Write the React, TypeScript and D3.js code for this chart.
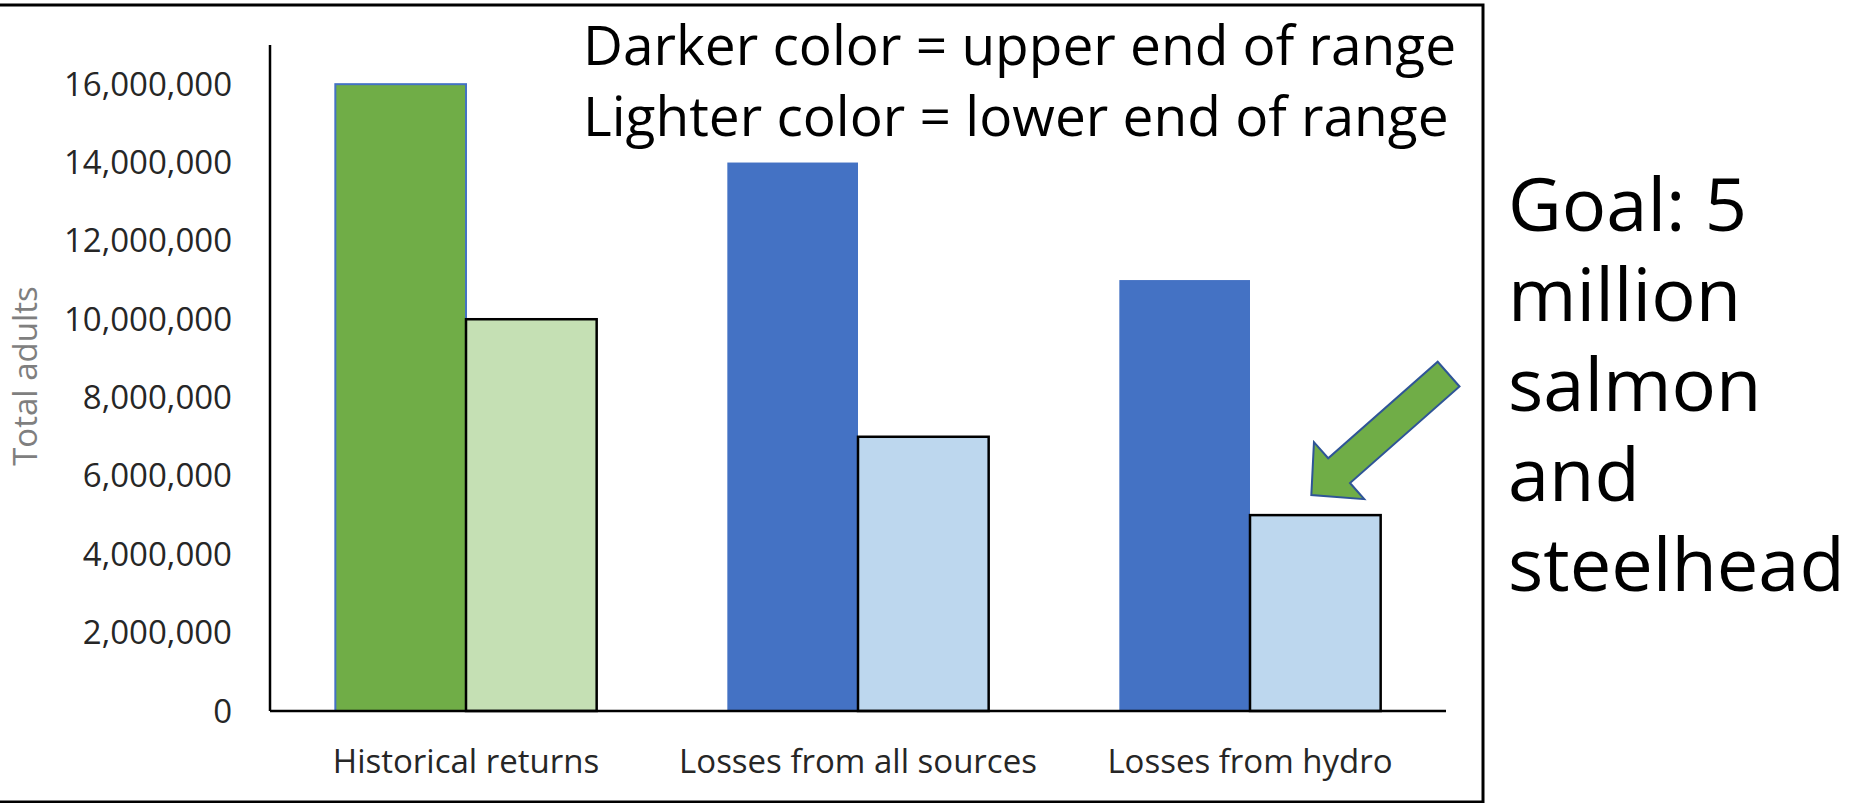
import React from "react";
import * as d3 from "d3";

// chart data
const categories = ["Historical returns", "Losses from all sources", "Losses from hydro"];
const upperEnd = [16000000, 14000000, 11000000];
const lowerEnd = [10000000, 7000000, 5000000];
const yTicks = [0, 2000000, 4000000, 6000000, 8000000, 10000000, 12000000, 14000000, 16000000];
const noteLines = ["Darker color = upper end of range", "Lighter color = lower end of range"];
const goalLines = ["Goal: 5", "million", "salmon", "and", "steelhead"];
const goalValue = 5000000;

const darkFill = ["#70AD47", "#4472C4", "#4472C4"];
const lightFill = ["#C5E0B4", "#BDD7EE", "#BDD7EE"];

const width = 1850;
const height = 803;
const font = "'Open Sans', sans-serif";

export default function App() {
    const plotLeft = 270;
    const plotRight = 1446;
    const plotTop = 45;
    const plotBottom = 711;

    const x0 = d3.scaleBand<string>()
        .domain(categories)
        .range([plotLeft, plotRight])
        .paddingInner(1 / 3)
        .paddingOuter(1 / 6);

    const x1 = d3.scaleBand<string>()
        .domain(["upper", "lower"])
        .range([0, x0.bandwidth()]);

    const y = d3.scaleLinear()
        .domain([0, 17000000])
        .range([plotBottom, plotTop]);

    const fmt = d3.format(",");

    // arrow pointing at the goal bar (lower end of hydro losses)
    const goalIdx = lowerEnd.indexOf(goalValue);
    const tipX = (x0(categories[goalIdx]) ?? 0) + (x1("lower") ?? 0) + x1.bandwidth() / 2 - 4;
    const tipY = y(goalValue) - 20;
    const headLen = 37, headHalf = 38, shaftHalf = 16.5, arrowLen = 183;
    const arrowShape = d3.line()([
        [0, 0],
        [headLen, -headHalf],
        [headLen, -shaftHalf],
        [arrowLen, -shaftHalf],
        [arrowLen, shaftHalf],
        [headLen, shaftHalf],
        [headLen, headHalf],
    ]) + "Z";

    return (
        <svg width={width} height={height} style={{ position: "absolute", left: 0, top: 0, background: "#fff" }}>
            {/* frame round the chart */}
            <rect x={-3} y={5} width={1486} height={797} fill="none" stroke="#000" strokeWidth={3} />

            {/* y axis title */}
            <text transform={`translate(37, 376) rotate(-90)`} textAnchor="middle"
                  fontFamily={font} fontSize={33} fill="#7F7F7F">Total adults</text>

            {/* y tick labels */}
            {yTicks.map(t => (
                <text key={t} x={232} y={y(t)} dy="0.35em" textAnchor="end"
                      fontFamily={font} fontSize={33} fill="#262626">{fmt(t)}</text>
            ))}

            {/* bars */}
            {categories.map((c, i) => {
                const bx = x0(c) ?? 0;
                return (
                    <g key={c}>
                        <rect x={bx + (x1("upper") ?? 0)} y={y(upperEnd[i])}
                              width={x1.bandwidth()} height={y(0) - y(upperEnd[i])}
                              fill={darkFill[i]}
                              stroke={i === 0 ? "#4472C4" : "none"} strokeWidth={2} />
                        <rect x={bx + (x1("lower") ?? 0)} y={y(lowerEnd[i])}
                              width={x1.bandwidth()} height={y(0) - y(lowerEnd[i])}
                              fill={lightFill[i]} stroke="#000" strokeWidth={2.5} />
                        <text x={bx + x0.bandwidth() / 2} y={773} textAnchor="middle"
                              fontFamily={font} fontSize={33} fill="#262626">{c}</text>
                    </g>
                );
            })}

            {/* axes */}
            <line x1={plotLeft} x2={plotLeft} y1={plotTop} y2={plotBottom} stroke="#000" strokeWidth={2.5} />
            <line x1={plotLeft} x2={plotRight} y1={plotBottom} y2={plotBottom} stroke="#000" strokeWidth={2.5} />

            {/* legend note */}
            {noteLines.map((s, i) => (
                <text key={s} x={583} y={65 + i * 71}
                      fontFamily={font} fontSize={55} fill="#000">{s}</text>
            ))}

            {/* goal arrow */}
            <path d={arrowShape} transform={`translate(${tipX}, ${tipY}) rotate(-41.4)`}
                  fill="#70AD47" stroke="#2F5597" strokeWidth={2} strokeLinejoin="miter" />

            {/* goal text */}
            {goalLines.map((s, i) => (
                <text key={s} x={1508} y={231 + i * 90}
                      fontFamily={font} fontSize={74} fill="#000">{s}</text>
            ))}
        </svg>
    );
}
